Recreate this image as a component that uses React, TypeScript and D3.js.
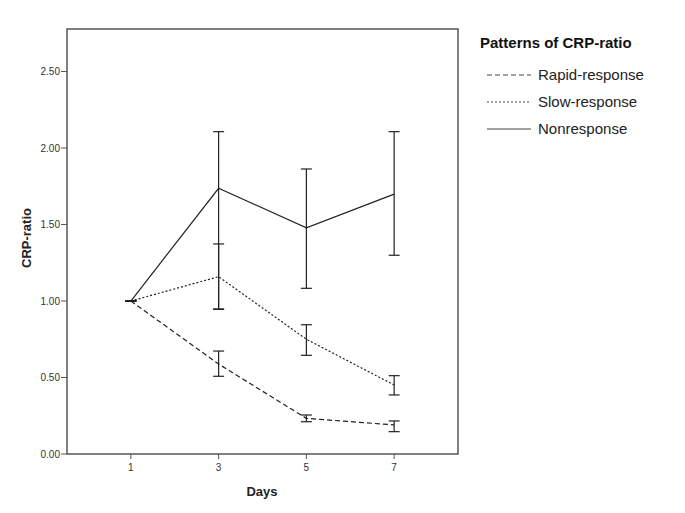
import React from "react";
import * as d3 from "d3";

const days = [1, 3, 5, 7];
const seriesNames = ["Rapid-response", "Slow-response", "Nonresponse"];
const rapidMean = [1.0, 0.588, 0.233, 0.19];
const rapidLow = [1.0, 0.508, 0.211, 0.146];
const rapidHigh = [1.0, 0.673, 0.255, 0.216];
const slowMean = [1.0, 1.159, 0.75, 0.451];
const slowLow = [1.0, 0.945, 0.645, 0.386];
const slowHigh = [1.0, 1.373, 0.845, 0.512];
const nonMean = [1.0, 1.737, 1.479, 1.699];
const nonLow = [1.0, 0.948, 1.083, 1.299];
const nonHigh = [1.0, 2.107, 1.863, 2.107];
const yTicks = [0, 0.5, 1.0, 1.5, 2.0, 2.5];
const dashes = ["5,3", "2,2", null];

const series = [
  { name: seriesNames[0], mean: rapidMean, low: rapidLow, high: rapidHigh, dash: dashes[0] },
  { name: seriesNames[1], mean: slowMean, low: slowLow, high: slowHigh, dash: dashes[1] },
  { name: seriesNames[2], mean: nonMean, low: nonLow, high: nonHigh, dash: dashes[2] },
];

export default function App() {
  const left = 67, right = 458, top = 29, bottom = 454;
  const x = d3.scaleLinear().domain([-0.455, 8.455]).range([left, right]);
  const y = d3.scaleLinear().domain([0, 2.778]).range([bottom, top]);
  const line = d3.line<number>().x((_, i) => x(days[i])).y((v) => y(v));
  const font = "Arial, 'Liberation Sans', sans-serif";
  const cap = 5.5;
  return (
    <svg width={685} height={513} style={{ position: "absolute", left: 0, top: 0 }} fontFamily={font}>
      <rect x={0} y={0} width={685} height={513} fill="#fff" />
      <rect x={left} y={top} width={right - left} height={bottom - top} fill="none" stroke="#555" strokeWidth={1.5} />
      {yTicks.map((t) => (
        <g key={t}>
          <line x1={left - 6} x2={left} y1={y(t)} y2={y(t)} stroke="#555" strokeWidth={1} />
          <text x={left - 7} y={y(t)} dy="0.35em" textAnchor="end" fontSize={10} fill="#333">
            {t.toFixed(2)}
          </text>
        </g>
      ))}
      {days.map((d) => (
        <g key={d}>
          <line x1={x(d)} x2={x(d)} y1={bottom} y2={bottom + 5} stroke="#555" strokeWidth={1} />
          <text x={x(d)} y={bottom + 17} textAnchor="middle" fontSize={10} fill="#333">
            {d}
          </text>
        </g>
      ))}
      <text x={262} y={496} textAnchor="middle" fontSize={13} fontWeight="bold" fill="#222">Days</text>
      <text transform={`translate(31,238) rotate(-90)`} textAnchor="middle" fontSize={13} fontWeight="bold" fill="#222">CRP-ratio</text>
      {series.map((s) => (
        <g key={s.name}>
          <path d={line(s.mean) || ""} fill="none" stroke="#222" strokeWidth={1.2} strokeDasharray={s.dash || undefined} />
          {days.map((d, i) => (
            <g key={d} stroke="#222" strokeWidth={1.2}>
              <line x1={x(d)} x2={x(d)} y1={y(s.low[i])} y2={y(s.high[i])} />
              <line x1={x(d) - cap} x2={x(d) + cap} y1={y(s.low[i])} y2={y(s.low[i])} />
              <line x1={x(d) - cap} x2={x(d) + cap} y1={y(s.high[i])} y2={y(s.high[i])} />
            </g>
          ))}
        </g>
      ))}
      <text x={480} y={48} fontSize={15} fontWeight="bold" fill="#111">Patterns of CRP-ratio</text>
      {series.map((s, i) => {
        const cy = 75 + i * 27;
        return (
          <g key={s.name}>
            <line x1={487} x2={531} y1={cy} y2={cy} stroke="#444" strokeWidth={1} strokeDasharray={s.dash || undefined} />
            <text x={538} y={cy} dy="0.35em" fontSize={15} fill="#222">{s.name}</text>
          </g>
        );
      })}
    </svg>
  );
}
